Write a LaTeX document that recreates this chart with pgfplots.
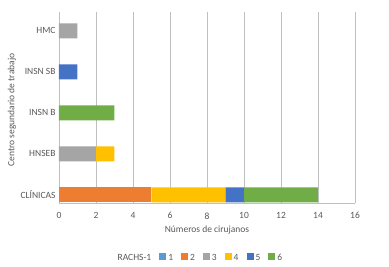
\documentclass[border=0pt]{standalone}
\usepackage{fontspec}
\setmainfont{Carlito}
\usepackage{pgfplots}
\pgfplotsset{compat=1.18}
\definecolor{c1}{HTML}{5B9BD5}
\definecolor{c2}{HTML}{ED7D31}
\definecolor{c3}{HTML}{A5A5A5}
\definecolor{c4}{HTML}{FFC000}
\definecolor{c5}{HTML}{4472C4}
\definecolor{c6}{HTML}{70AD47}
\definecolor{txt}{HTML}{595959}
\definecolor{grd}{HTML}{BFBFBF}
\begin{document}
\begin{tikzpicture}[x=1pt,y=1pt]
\useasboundingbox (0,0) rectangle (389,266);
\begin{axis}[
  at={(59pt,63pt)}, anchor=south west,
  scale only axis, width=296pt, height=191pt,
  xbar stacked, bar width=15pt,
  xmin=0, xmax=16, xtick={0,2,...,16},
  ymin=-0.2, ymax=4.46, ytick={0,1,2,3,4},
  yticklabels={CLÍNICAS,HNSEB,INSN B,INSN SB,HMC},
  axis lines*=left,
  axis line style={grd},
  xmajorgrids, grid style={grd, line width=0.6pt},
  major tick length=0pt,
  font=\fontsize{9.5}{11}\selectfont,
  every tick label/.append style={text=txt},
  xticklabel style={yshift=-6pt},
  /pgf/number format/assume math mode=true,
  xlabel={Números de cirujanos},
  ylabel={Centro segundario de trabajo},
  label style={text=txt},
  xlabel style={at={(axis description cs:0.5,-0.141)}, anchor=center},
  ylabel style={at={(axis description cs:-0.159,0.487)}, anchor=center, rotate=0},
  legend style={at={(axis description cs:0.476,-0.288)}, anchor=center, draw=none,
    legend columns=-1, text=txt, font=\fontsize{9.5}{11}\selectfont,
    /tikz/every even column/.append style={column sep=6pt}},
  legend image code/.code={\fill[#1] (0pt,-1.5pt) rectangle (7pt,5.5pt);},
]
\addlegendimage{empty legend}
\addlegendentry{RACHS-1}
\addplot[fill=c1, draw=none] coordinates {(0,0) (0,1) (0,2) (0,3) (0,4)};
\addlegendentry{1}
\addplot[fill=c2, draw=none] coordinates {(5,0) (0,1) (0,2) (0,3) (0,4)};
\addlegendentry{2}
\addplot[fill=c3, draw=none] coordinates {(0,0) (2,1) (0,2) (0,3) (1,4)};
\addlegendentry{3}
\addplot[fill=c4, draw=none] coordinates {(4,0) (1,1) (0,2) (0,3) (0,4)};
\addlegendentry{4}
\addplot[fill=c5, draw=none] coordinates {(1,0) (0,1) (0,2) (1,3) (0,4)};
\addlegendentry{5}
\addplot[fill=c6, draw=none] coordinates {(4,0) (0,1) (3,2) (0,3) (0,4)};
\addlegendentry{6}
\end{axis}
\end{tikzpicture}
\end{document}
